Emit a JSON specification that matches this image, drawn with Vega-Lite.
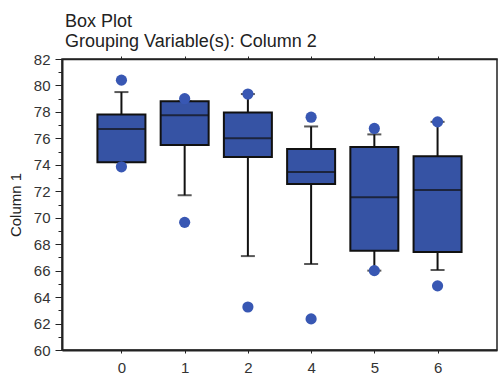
{
  "$schema": "https://vega.github.io/schema/vega-lite/v6.json",
  "autosize": "none",
  "width": 435,
  "height": 291,
  "padding": {"left": 62, "top": 59, "right": 2, "bottom": 24},
  "background": "white",
  "title": {
    "text": ["Box Plot", "Grouping Variable(s): Column 2"],
    "anchor": "start",
    "frame": "group",
    "font": "Liberation Sans",
    "fontSize": 18,
    "fontWeight": "normal",
    "lineHeight": 20,
    "color": "#222222",
    "offset": 1,
    "dx": 3
  },
  "resolve": {"axis": {"y": "independent"}},
  "config": {
    "view": {"stroke": "#222222", "strokeWidth": 1.5},
    "axis": {
      "labelFont": "Liberation Sans",
      "titleFont": "Liberation Sans",
      "labelColor": "#333333",
      "titleColor": "#222222",
      "domainColor": "#222222",
      "tickColor": "#222222",
      "grid": false
    }
  },
  "datasets": {
    "boxes": [
      {"group": "0", "lower": 74.2, "q1": 74.2, "median": 76.7, "q3": 77.8, "upper": 79.5},
      {"group": "1", "lower": 71.7, "q1": 75.5, "median": 77.75, "q3": 78.8, "upper": 78.8},
      {"group": "2", "lower": 67.1, "q1": 74.6, "median": 76.0, "q3": 77.95, "upper": 79.35},
      {"group": "4", "lower": 66.5, "q1": 72.55, "median": 73.45, "q3": 75.2, "upper": 76.9},
      {"group": "5", "lower": 66.0, "q1": 67.5, "median": 71.55, "q3": 75.35, "upper": 76.3},
      {"group": "6", "lower": 66.05, "q1": 67.4, "median": 72.1, "q3": 74.65, "upper": 77.25}
    ],
    "outliers": [
      {"group": "0", "value": 80.4},
      {"group": "0", "value": 73.85},
      {"group": "1", "value": 79.0},
      {"group": "1", "value": 69.65},
      {"group": "2", "value": 79.35},
      {"group": "2", "value": 63.25},
      {"group": "4", "value": 77.6},
      {"group": "4", "value": 62.35},
      {"group": "5", "value": 76.75},
      {"group": "5", "value": 66.0},
      {"group": "6", "value": 77.25},
      {"group": "6", "value": 64.85}
    ]
  },
  "layer": [
    {
      "data": {"name": "boxes"},
      "mark": {"type": "rule", "color": "#111111", "strokeWidth": 2},
      "encoding": {
        "x": {
          "field": "group", "type": "nominal", "sort": ["0", "1", "2", "4", "5", "6"],
          "scale": {"type": "point", "padding": 0.94},
          "axis": {"orient": "bottom", "title": null, "labelAngle": 0, "labelFontSize": 15, "tickSize": 3, "labelPadding": 7, "domainWidth": 2}
        },
        "y": {
          "field": "lower", "type": "quantitative",
          "scale": {"domain": [60, 82], "nice": false, "zero": false},
          "axis": {
            "orient": "left",
            "title": "Column 1",
            "titleFontSize": 15,
            "titleFontWeight": "normal",
            "titlePadding": 10,
            "labelFontSize": 15,
            "values": [60, 62, 64, 66, 68, 70, 72, 74, 76, 78, 80, 82],
            "tickSize": 7,
            "labelPadding": 5,
            "domainWidth": 2
          }
        },
        "y2": {"field": "q1"}
      }
    },
    {
      "data": {"name": "boxes"},
      "mark": {"type": "rule", "color": "#111111", "strokeWidth": 2},
      "encoding": {
        "x": {
          "field": "group", "type": "nominal", "sort": ["0", "1", "2", "4", "5", "6"],
          "axis": {"orient": "top", "title": null, "labels": false, "tickSize": 3, "domainWidth": 1.5}
        },
        "y": {
          "field": "q3", "type": "quantitative",
          "axis": {"orient": "left", "title": null, "labels": false, "domain": false, "tickSize": 4,
            "values": [61, 63, 65, 67, 69, 71, 73, 75, 77, 79, 81]}
        },
        "y2": {"field": "upper"}
      }
    },
    {
      "data": {"name": "boxes"},
      "mark": {"type": "tick", "color": "#111111", "size": 14, "thickness": 2},
      "encoding": {
        "x": {"field": "group", "type": "nominal", "sort": ["0", "1", "2", "4", "5", "6"], "axis": null},
        "y": {"field": "lower", "type": "quantitative", "axis": null}
      }
    },
    {
      "data": {"name": "boxes"},
      "mark": {"type": "tick", "color": "#111111", "size": 14, "thickness": 2},
      "encoding": {
        "x": {"field": "group", "type": "nominal", "sort": ["0", "1", "2", "4", "5", "6"], "axis": null},
        "y": {"field": "upper", "type": "quantitative", "axis": null}
      }
    },
    {
      "data": {"name": "boxes"},
      "mark": {"type": "bar", "width": 48, "fill": "#3653A4", "stroke": "#111111", "strokeWidth": 2},
      "encoding": {
        "x": {"field": "group", "type": "nominal", "sort": ["0", "1", "2", "4", "5", "6"], "axis": null},
        "y": {"field": "q1", "type": "quantitative", "axis": null},
        "y2": {"field": "q3"}
      }
    },
    {
      "data": {"name": "boxes"},
      "mark": {"type": "tick", "color": "#111111", "size": 48, "thickness": 2},
      "encoding": {
        "x": {"field": "group", "type": "nominal", "sort": ["0", "1", "2", "4", "5", "6"], "axis": null},
        "y": {"field": "median", "type": "quantitative", "axis": null}
      }
    },
    {
      "data": {"name": "outliers"},
      "mark": {"type": "point", "filled": true, "size": 125, "color": "#3857B3", "opacity": 1},
      "encoding": {
        "x": {"field": "group", "type": "nominal", "sort": ["0", "1", "2", "4", "5", "6"], "axis": null},
        "y": {"field": "value", "type": "quantitative", "axis": null}
      }
    }
  ]
}
